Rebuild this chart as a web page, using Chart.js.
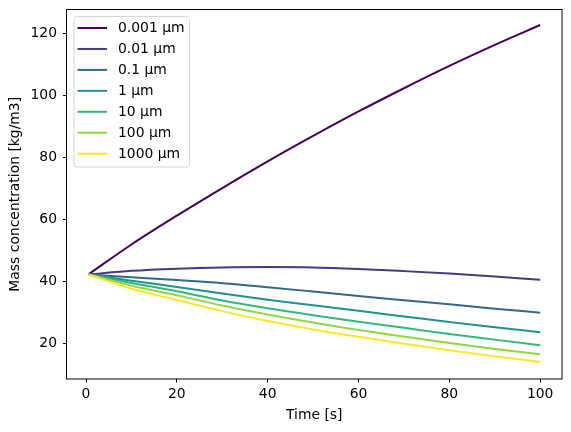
<!DOCTYPE html>
<html>
<head>
<meta charset="utf-8">
<script src="https://cdn.jsdelivr.net/npm/chart.js@4/dist/chart.umd.min.js"></script>
<style>
  html, body { margin: 0; padding: 0; background: #fff; }
  #wrap { width: 571px; height: 432px; }
</style>
</head>
<body>
<div id="wrap"><canvas id="myChart" width="571" height="432"></canvas></div>
<script>
const times = [0.5, 10, 20, 30, 40, 50, 60, 70, 80, 90, 100];
const sizeLabels = ['0.001 µm', '0.01 µm', '0.1 µm', '1 µm', '10 µm', '100 µm', '1000 µm'];
const mass0001 = [42.2, 51.9, 61.2, 70.1, 78.7, 86.9, 94.8, 102.3, 109.5, 116.3, 122.7];
const mass001 = [42.2, 43.4, 44.1, 44.5, 44.6, 44.5, 44.0, 43.3, 42.5, 41.6, 40.5];
const mass01 = [42.2, 41.3, 40.4, 39.4, 38.1, 36.7, 35.3, 33.9, 32.6, 31.2, 29.9];
const mass1 = [42.2, 40.2, 38.2, 36.1, 34.1, 32.3, 30.5, 28.7, 26.9, 25.2, 23.6];
const mass10 = [42.2, 39.5, 36.8, 33.8, 31.3, 29.1, 27.0, 25.0, 23.0, 21.2, 19.4];
const mass100 = [42.2, 38.6, 35.5, 32.2, 29.3, 26.7, 24.3, 22.2, 20.1, 18.2, 16.5];
const mass1000 = [42.2, 37.6, 34.0, 30.4, 27.2, 24.5, 22.1, 19.9, 17.8, 15.8, 14.0];
const xTicks = [0, 20, 40, 60, 80, 100];
const yTicks = [20, 40, 60, 80, 100, 120];

const seriesList = [mass0001, mass001, mass01, mass1, mass10, mass100, mass1000];
const colors = ['#440154', '#443983', '#31688e', '#21918c', '#35b779', '#90d743', '#fde725'];
const fontFamily = '"DejaVu Sans", sans-serif';
const fontSize = 13.9;

const datasets = seriesList.map((values, i) => ({
  label: sizeLabels[i],
  data: values.map((y, j) => ({ x: times[j], y })),
  borderColor: colors[i],
  backgroundColor: colors[i],
  borderWidth: 2,
  pointRadius: 0,
  cubicInterpolationMode: 'monotone',
  order: seriesList.length - i,
}));

function noLabelPadding(axis) {
  axis.paddingLeft = 0;
  axis.paddingRight = 0;
  axis.paddingTop = 0;
  axis.paddingBottom = 0;
}

// black frame round the axes, like matplotlib spines
const framePlugin = {
  id: 'frame',
  afterDraw(chart) {
    const { ctx, chartArea: { left, top, right, bottom } } = chart;
    ctx.save();
    ctx.strokeStyle = '#000';
    ctx.lineWidth = 1;
    ctx.strokeRect(left, top, right - left, bottom - top);
    ctx.restore();
  },
};

// legend drawn inside the plot, upper left
const innerLegend = {
  id: 'innerLegend',
  afterDraw(chart) {
    const { ctx, chartArea } = chart;
    const x0 = chartArea.left + 7;
    const y0 = chartArea.top + 6.5;
    const w = 115.5;
    const h = 150.5;
    ctx.save();
    ctx.beginPath();
    ctx.roundRect(x0 + 0.5, y0 + 0.5, w, h, 3);
    ctx.fillStyle = 'rgba(255,255,255,0.8)';
    ctx.fill();
    ctx.strokeStyle = '#d6d6d6';
    ctx.lineWidth = 1;
    ctx.stroke();
    ctx.font = `${fontSize}px ${fontFamily}`;
    ctx.textBaseline = 'middle';
    ctx.fillStyle = '#000';
    sizeLabels.forEach((label, i) => {
      const y = y0 + 12 + i * 20.95;
      ctx.beginPath();
      ctx.moveTo(x0 + 4, y);
      ctx.lineTo(x0 + 33.5, y);
      ctx.strokeStyle = colors[i];
      ctx.lineWidth = 2;
      ctx.stroke();
      ctx.fillText(label, x0 + 44.5, y + 0.5);
    });
    ctx.restore();
  },
};

const chart = new Chart(document.querySelector('#myChart'), {
  type: 'line',
  data: { datasets },
  plugins: [framePlugin, innerLegend],
  options: {
    responsive: false,
    animation: false,
    layout: {
      padding: { top: 9.5, right: 9, left: 0, bottom: 0 },
    },
    scales: {
      x: {
        type: 'linear',
        min: -4.3,
        max: 104.8,
        afterBuildTicks: axis => { axis.ticks = xTicks.map(value => ({ value })); },
        afterFit: axis => { axis.height = 53; noLabelPadding(axis); },
        border: { display: false },
        grid: {
          drawOnChartArea: false,
          drawTicks: true,
          tickLength: 3.5,
          tickWidth: 1,
          tickColor: '#000',
        },
        ticks: {
          padding: 4,
          maxRotation: 0,
          color: '#000',
          font: { family: fontFamily, size: fontSize },
        },
        title: {
          display: true,
          text: 'Time [s]',
          color: '#000',
          font: { family: fontFamily, size: fontSize },
          padding: { top: 0, bottom: 8.5 },
        },
      },
      y: {
        type: 'linear',
        min: 8.5,
        max: 127.7,
        afterBuildTicks: axis => { axis.ticks = yTicks.map(value => ({ value })); },
        afterFit: axis => { axis.width = 66.5; noLabelPadding(axis); },
        border: { display: false },
        grid: {
          drawOnChartArea: false,
          drawTicks: true,
          tickLength: 3.5,
          tickWidth: 1,
          tickColor: '#000',
        },
        ticks: {
          padding: 6,
          color: '#000',
          font: { family: fontFamily, size: fontSize },
        },
        title: {
          display: true,
          text: 'Mass concentration [kg/m3]',
          color: '#000',
          font: { family: fontFamily, size: fontSize },
          padding: { top: 7.5, bottom: 0 },
        },
      },
    },
    plugins: {
      legend: { display: false },
      tooltip: { enabled: false },
    },
  },
});
</script>
</body>
</html>
